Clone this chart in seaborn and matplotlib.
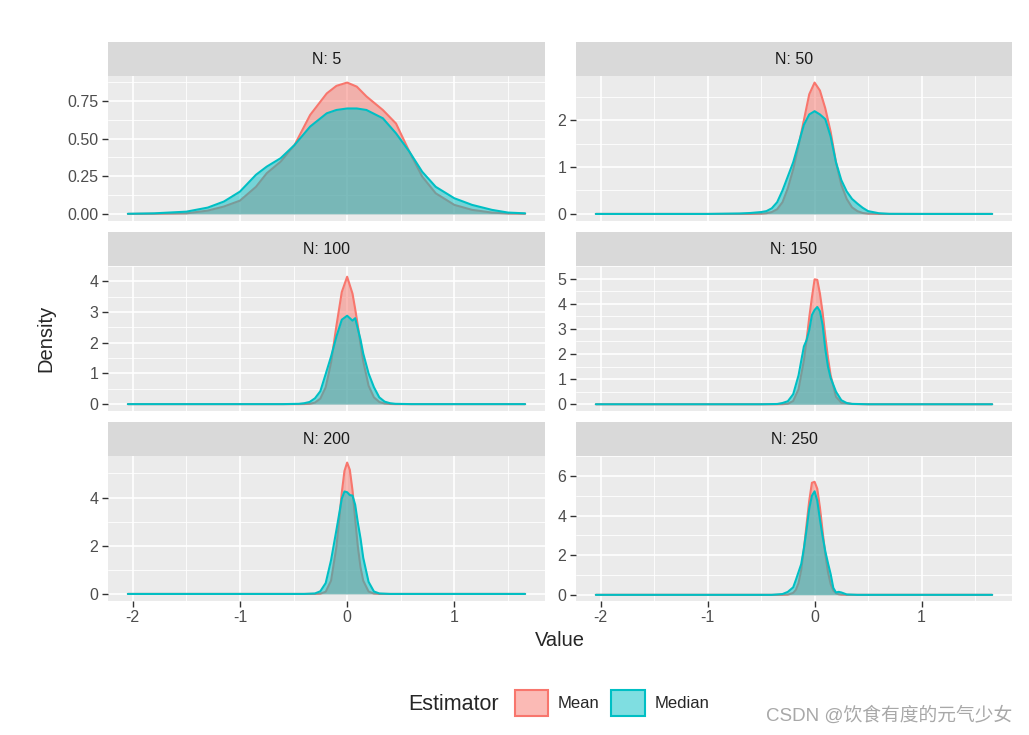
import pandas as pd
import numpy as np
import seaborn as sns
import matplotlib.pyplot as plt
from matplotlib.colors import to_rgb
from matplotlib.patches import Patch

# Density curves (x = estimate value, y = density)
x5 = [-2.045, -1.8, -1.5, -1.3, -1.15, -1.0, -0.85, -0.75, -0.62, -0.49, -0.345, -0.19, -0.1,
      0.0, 0.09, 0.18, 0.333, 0.456, 0.58, 0.70, 0.826, 1.0, 1.165, 1.35, 1.5, 1.66]
mean5 = [0.0, 0.001, 0.004, 0.022, 0.049, 0.088, 0.18, 0.27, 0.347, 0.458, 0.657, 0.80, 0.85,
         0.872, 0.845, 0.78, 0.69, 0.60, 0.414, 0.248, 0.137, 0.06, 0.027, 0.009, 0.003, 0.001]
median5 = [0.001, 0.004, 0.015, 0.042, 0.082, 0.148, 0.26, 0.314, 0.37, 0.458, 0.58, 0.668, 0.69,
           0.70, 0.70, 0.69, 0.635, 0.535, 0.414, 0.28, 0.18, 0.104, 0.06, 0.027, 0.009, 0.004]

x50 = [-2.045, -1.0, -0.7, -0.6, -0.5, -0.45, -0.4, -0.35, -0.3, -0.25, -0.2, -0.15, -0.1, -0.05,
       0.0, 0.05, 0.1, 0.15, 0.2, 0.25, 0.3, 0.35, 0.4, 0.45, 0.5, 0.6, 0.7, 1.0, 1.66]
mean50 = [0.0, 0.0, 0.0, 0.0, 0.005, 0.015, 0.04, 0.10, 0.25, 0.55, 0.95, 1.45, 2.0, 2.55,
          2.80, 2.63, 2.25, 1.75, 1.10, 0.62, 0.32, 0.14, 0.06, 0.02, 0.006, 0.0, 0.0, 0.0, 0.0]
median50 = [0.0, 0.0, 0.01, 0.02, 0.04, 0.06, 0.12, 0.25, 0.50, 0.80, 1.10, 1.50, 1.90, 2.12,
            2.19, 2.12, 2.02, 1.65, 1.10, 0.72, 0.48, 0.32, 0.22, 0.13, 0.06, 0.015, 0.002, 0.0, 0.0]

x100 = [-2.045, -1.0, -0.6, -0.45, -0.4, -0.35, -0.3, -0.25, -0.2, -0.15, -0.1, -0.05, 0.0,
        0.05, 0.075, 0.1, 0.125, 0.15, 0.2, 0.25, 0.3, 0.35, 0.4, 0.45, 0.6, 1.0, 1.66]
mean100 = [0.0, 0.0, 0.0, 0.0, 0.003, 0.01, 0.05, 0.18, 0.55, 1.35, 2.55, 3.65, 4.15,
           3.6, 3.1, 2.55, 1.95, 1.4, 0.6, 0.22, 0.07, 0.02, 0.005, 0.0, 0.0, 0.0, 0.0]
median100 = [0.0, 0.0, 0.0, 0.01, 0.03, 0.07, 0.19, 0.42, 0.98, 1.55, 2.2, 2.75, 2.88,
             2.72, 2.8, 2.45, 2.1, 1.65, 1.0, 0.55, 0.22, 0.08, 0.03, 0.01, 0.0, 0.0, 0.0]

x150 = [-2.045, -1.0, -0.5, -0.35, -0.3, -0.25, -0.2, -0.15, -0.1, -0.075, -0.05, -0.025, 0.0,
        0.025, 0.05, 0.075, 0.1, 0.125, 0.15, 0.2, 0.25, 0.3, 0.35, 0.5, 1.0, 1.66]
mean150 = [0.0, 0.0, 0.0, 0.0, 0.003, 0.02, 0.13, 0.6, 1.75, 2.55, 3.45, 4.25, 4.97,
           4.95, 4.4, 3.65, 2.7, 1.85, 1.15, 0.3, 0.06, 0.04, 0.01, 0.0, 0.0, 0.0]
median150 = [0.0, 0.0, 0.0, 0.01, 0.05, 0.12, 0.4, 1.15, 2.3, 2.55, 2.95, 3.55, 3.75,
             3.87, 3.7, 3.15, 2.2, 1.5, 1.05, 0.5, 0.16, 0.05, 0.015, 0.0, 0.0, 0.0]

x200 = [-2.045, -1.0, -0.4, -0.3, -0.25, -0.2, -0.15, -0.1, -0.075, -0.05, -0.025, 0.0,
        0.025, 0.05, 0.075, 0.1, 0.125, 0.15, 0.2, 0.25, 0.3, 0.4, 1.0, 1.66]
mean200 = [0.0, 0.0, 0.0, 0.0, 0.01, 0.09, 0.55, 1.95, 3.05, 4.2, 5.1, 5.45,
           5.15, 4.3, 3.1, 1.95, 1.1, 0.55, 0.1, 0.015, 0.0, 0.0, 0.0, 0.0]
median200 = [0.0, 0.0, 0.0, 0.02, 0.11, 0.45, 1.4, 2.65, 3.3, 3.95, 4.25, 4.22,
             4.1, 4.08, 3.7, 2.95, 2.3, 1.5, 0.5, 0.1, 0.02, 0.0, 0.0, 0.0]

x250 = [-2.045, -1.0, -0.4, -0.3, -0.25, -0.2, -0.175, -0.15, -0.125, -0.1, -0.075, -0.05, -0.025,
        0.0, 0.025, 0.05, 0.075, 0.1, 0.125, 0.15, 0.175, 0.2, 0.225, 0.25, 0.3, 0.4, 1.0, 1.66]
mean250 = [0.0, 0.0, 0.0, 0.0, 0.01, 0.1, 0.25, 0.6, 1.25, 2.3, 3.55, 4.75, 5.65,
           5.7, 5.35, 4.4, 3.2, 2.05, 1.15, 0.55, 0.22, 0.08, 0.03, 0.01, 0.0, 0.0, 0.0, 0.0]
median250 = [0.0, 0.0, 0.0, 0.04, 0.15, 0.38, 0.75, 1.15, 1.55, 2.35, 3.3, 4.35, 5.0,
             5.22, 4.75, 3.8, 2.95, 2.2, 1.6, 1.05, 0.35, 0.12, 0.15, 0.12, 0.02, 0.0, 0.0, 0.0]

sample_sizes = [5, 50, 100, 150, 200, 250]
estimators = ["Mean", "Median"]
curves = {
    5: (x5, mean5, median5),
    50: (x50, mean50, median50),
    100: (x100, mean100, median100),
    150: (x150, mean150, median150),
    200: (x200, mean200, median200),
    250: (x250, mean250, median250),
}
# y tick labels per panel (free y scales)
yticks = {
    5: ["0.00", "0.25", "0.50", "0.75"],
    50: ["0", "1", "2"],
    100: ["0", "1", "2", "3", "4"],
    150: ["0", "1", "2", "3", "4", "5"],
    200: ["0", "2", "4"],
    250: ["0", "2", "4", "6"],
}
xticks = [-2, -1, 0, 1]

rows = []
for n in sample_sizes:
    xs, m, md = curves[n]
    for est, ys in zip(estimators, [m, md]):
        for xv, yv in zip(xs, ys):
            rows.append({"N": n, "Estimator": est, "Value": xv, "Density": yv})
df = pd.DataFrame(rows)

palette = {"Mean": "#F8766D", "Median": "#00BFC4"}

sns.set_style("white")
plt.rcParams["font.family"] = ["Liberation Sans", "Noto Sans CJK SC", "DejaVu Sans"]

W, H = 1029, 735
fig = plt.figure(figsize=(W / 100, H / 100), dpi=100)


def box(x0, y0, x1, y1):
    return [x0 / W, 1 - y1 / H, (x1 - x0) / W, (y1 - y0) / H]


cols = [(108, 545), (576, 1012)]
rowpos = [(42, 76, 220.5), (232, 266, 410.5), (422, 456, 600.5)]

xmin, xmax = -2.045, 1.66
xpad = 0.05 * (xmax - xmin)
tick_kw = dict(length=4, width=1.0, color="#333333", labelsize=11.5,
               labelcolor="#4D4D4D", pad=3)

for i, n in enumerate(sample_sizes):
    r, c = divmod(i, 2)
    x0, x1 = cols[c]
    s0, p0, p1 = rowpos[r]

    # strip
    sax = fig.add_axes(box(x0, s0, x1, p0))
    sax.set_facecolor("#D9D9D9")
    sax.set_xticks([])
    sax.set_yticks([])
    for sp in sax.spines.values():
        sp.set_visible(False)
    sax.text(0.5, 0.5, f"N: {n}", ha="center", va="center", fontsize=11.5,
             color="#1A1A1A", transform=sax.transAxes)

    ax = fig.add_axes(box(x0, p0, x1, p1))
    ax.set_facecolor("#EBEBEB")
    for sp in ax.spines.values():
        sp.set_visible(False)

    sub = df[df["N"] == n]
    z = 2
    for est in estimators:
        d = sub[sub["Estimator"] == est]
        ax.fill_between(d["Value"], 0, d["Density"], color=palette[est], alpha=0.5,
                        lw=0, zorder=z)
        sns.lineplot(data=d, x="Value", y="Density", color=palette[est], lw=1.5,
                     ax=ax, zorder=z + 0.5, sort=True)
        z += 1

    ymax = sub["Density"].max()
    ax.set_xlim(xmin - xpad, xmax + xpad)
    ax.set_ylim(-0.05 * ymax, 1.05 * ymax)

    labels = yticks[n]
    yv = [float(t) for t in labels]
    step = yv[1] - yv[0]
    ax.set_yticks(yv)
    ax.set_yticklabels(labels)
    ax.set_yticks([v + step / 2 for v in yv], minor=True)
    ax.set_xticks(xticks)
    ax.set_xticks([v + 0.5 for v in xticks], minor=True)
    ax.grid(which="major", color="white", lw=1.2, zorder=0)
    ax.grid(which="minor", color="white", lw=0.6, zorder=0)
    ax.set_axisbelow(True)
    ax.tick_params(which="minor", length=0)
    ax.tick_params(which="major", axis="y", left=True, **tick_kw)
    if r == 2:
        ax.set_xticklabels([str(t) for t in xticks])
        ax.tick_params(which="major", axis="x", bottom=True, **tick_kw)
    else:
        ax.tick_params(which="major", axis="x", length=0, labelbottom=False)
    ax.set_xlabel("")
    ax.set_ylabel("")

fig.text(560 / W, 1 - 641 / H, "Value", ha="center", va="center", fontsize=14.5)
fig.text(46 / W, 1 - 338 / H, "Density", ha="center", va="center", fontsize=14.5,
         rotation=90)

handles = [Patch(facecolor=(*to_rgb(palette[e]), 0.5), edgecolor=palette[e], lw=1.5)
           for e in estimators]
fig.text(408 / W, 1 - 704 / H, "Estimator", ha="left", va="center", fontsize=15.5)
fig.legend(handles, estimators, loc="center", bbox_to_anchor=(612 / W, 1 - 703 / H),
           ncol=2, frameon=False, fontsize=12, handlelength=2.0, handleheight=2.0,
           handletextpad=0.6, columnspacing=0.7, borderpad=0)

fig.text(1012 / W, 1 - 716 / H, "CSDN @饮食有度的元气少女", ha="right", va="center",
         fontsize=13.5, color="#A8A8A8")

plt.savefig("out.png", dpi=100)
plt.close()
